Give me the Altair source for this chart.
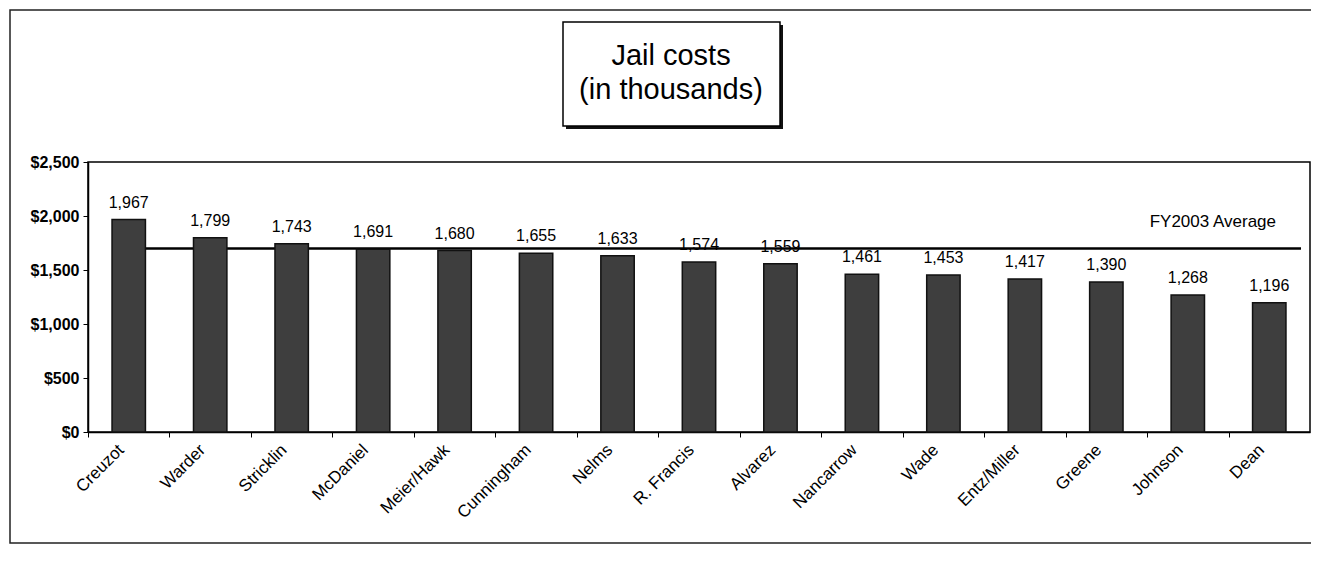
import altair as alt
import pandas as pd

names = ["Creuzot", "Warder", "Stricklin", "McDaniel", "Meier/Hawk", "Cunningham",
         "Nelms", "R. Francis", "Alvarez", "Nancarrow", "Wade", "Entz/Miller",
         "Greene", "Johnson", "Dean"]
costs = [1967, 1799, 1743, 1691, 1680, 1655, 1633, 1574, 1559, 1461, 1453, 1417,
         1390, 1268, 1196]
average_value = 1700
average_label = "FY2003 Average"
title_lines = ["Jail costs", "(in thousands)"]
y_ticks = [0, 500, 1000, 1500, 2000, 2500]

W, H = 1222, 270
FONT = "Liberation Sans"
step = W / len(names)

df = pd.DataFrame({"name": names, "cost": costs})

xscale = alt.Scale(domain=names, paddingInner=0.59, paddingOuter=0.295)
yscale = alt.Scale(domain=[0, 2500], nice=False)

xenc = alt.X("name:N", scale=xscale, sort=names, title=None,
             axis=alt.Axis(labelAngle=-45, labelFontSize=17, labelFont=FONT,
                           labelColor="#000", tickSize=5, tickColor="#000",
                           tickOffset=-step / 2, labelOffset=step / 2 - 8,
                           labelPadding=10, domainColor="#000", domainWidth=1.5,
                           labelLimit=200))
yenc = alt.Y("cost:Q", scale=yscale, title=None,
             axis=alt.Axis(values=y_ticks, format="$,.0f", grid=False,
                           labelFontSize=16, labelFont=FONT, labelFontWeight="bold",
                           labelColor="#000", tickSize=5, tickColor="#000",
                           labelPadding=4, domainColor="#000", domainWidth=1.5))

xplain = alt.X("name:N", scale=xscale, sort=names, bandPosition=0.5)
yplain = alt.Y("cost:Q", scale=yscale)

base = alt.Chart(df)

# outer border of the whole figure
outer = alt.Chart(pd.DataFrame({"k": [0]})).mark_rect(
    fillOpacity=0, stroke="#222", strokeWidth=1.5
).encode(x=alt.value(-78), x2=alt.value(W + 12), y=alt.value(-152), y2=alt.value(381))

avg = alt.Chart(pd.DataFrame({"name": [names[0]], "cost": [average_value]})).mark_rule(
    color="#000", strokeWidth=2.5
).encode(x=xplain, x2=alt.value(W - 9), y=yplain)

bars = base.mark_bar(fill="#3e3e3e", stroke="#111", strokeWidth=1.5).encode(x=xenc, y=yenc)

labels = base.mark_text(baseline="bottom", dy=-9, fontSize=16, font=FONT, color="#000").encode(
    x=xplain, y=yplain, text=alt.Text("cost:Q", format=","))

avg_text = alt.Chart(pd.DataFrame({"t": [average_label], "cost": [1944]})).mark_text(
    align="right", baseline="middle", fontSize=17, font=FONT, color="#000"
).encode(x=alt.value(W - 34), y=yplain, text="t:N")

shadow = alt.Chart(pd.DataFrame({"k": [0]})).mark_rect(fill="#111").encode(
    x=alt.value(478), x2=alt.value(695), y=alt.value(-137), y2=alt.value(-33))
box = alt.Chart(pd.DataFrame({"k": [0]})).mark_rect(fill="white", stroke="#000", strokeWidth=1.5).encode(
    x=alt.value(475), x2=alt.value(692), y=alt.value(-140), y2=alt.value(-36))
title1 = alt.Chart(pd.DataFrame({"t": [title_lines[0]]})).mark_text(
    fontSize=29, font=FONT, color="#000", baseline="alphabetic", align="center"
).encode(x=alt.value(583), y=alt.value(-97), text="t:N")
title2 = alt.Chart(pd.DataFrame({"t": [title_lines[1]]})).mark_text(
    fontSize=29, font=FONT, color="#000", baseline="alphabetic", align="center"
).encode(x=alt.value(583), y=alt.value(-63), text="t:N")

chart = alt.layer(outer, avg, bars, labels, avg_text, shadow, box, title1, title2).properties(
    width=W, height=H,
    autosize=alt.AutoSizeParams(type="none"),
    padding={"left": 80, "top": 154, "right": 1, "bottom": 113},
    background="white",
).configure_view(stroke="#000", strokeWidth=1.5)

chart.save("out.html", embed_options={"renderer": "svg", "actions": False})
